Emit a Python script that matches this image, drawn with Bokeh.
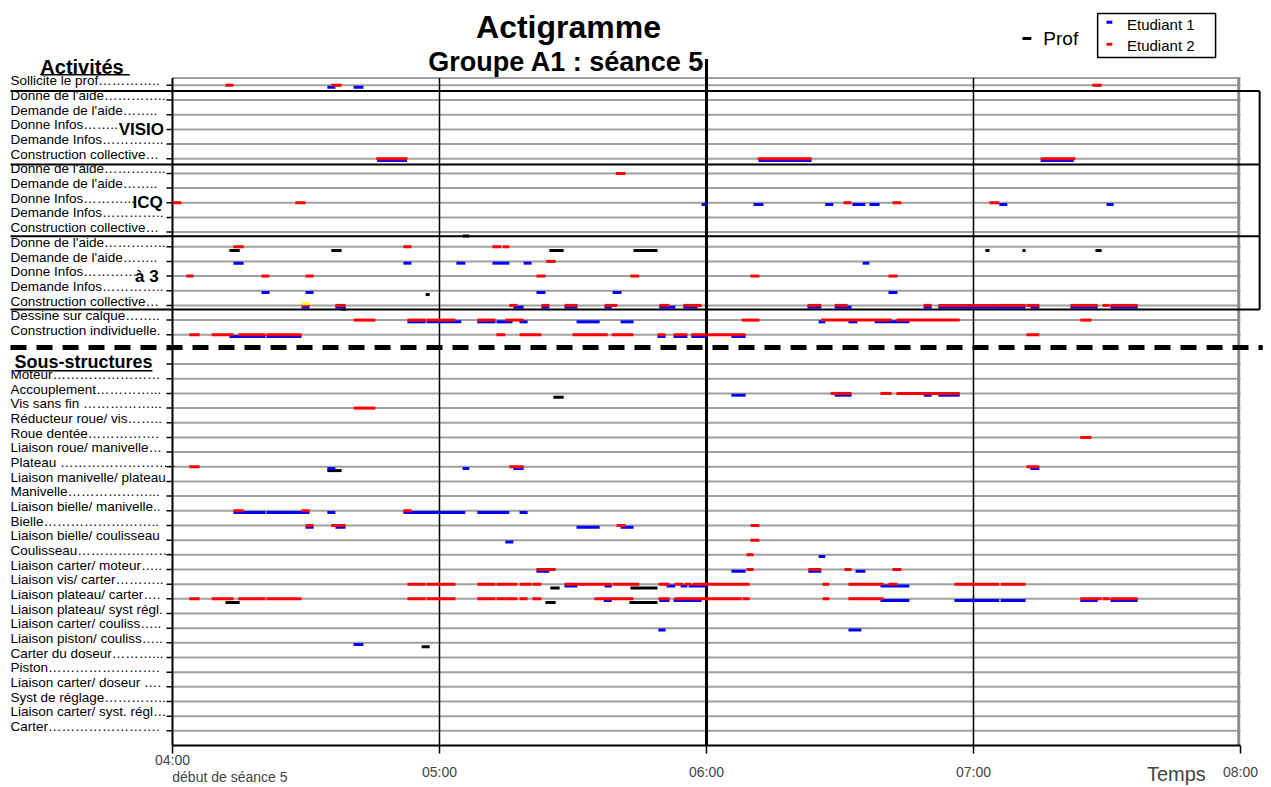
from bokeh.plotting import figure
from bokeh.models import ColumnDataSource, Range1d, FixedTicker, LinearAxis
from bokeh.core.properties import value
from bokeh.embed import file_html
from bokeh.resources import INLINE

FNAME = "Liberation Sans"
FONT = value(FNAME)

# ----------------------------------------------------------------- texts
titre = "Actigramme"
sous_titre = "Groupe A1 : séance 5"

activites = [
    "Sollicite le prof…………..",
    "Donne de l'aide…………..",
    "Demande de l'aide……..",
    "Donne Infos……..",
    "Demande Infos…………..",
    "Construction collective…",
    "Donne de l'aide…………..",
    "Demande de l'aide……..",
    "Donne Infos………...",
    "Demande Infos…………..",
    "Construction collective…",
    "Donne de l'aide…………..",
    "Demande de l'aide……..",
    "Donne Infos…………",
    "Demande Infos…………..",
    "Construction collective…",
    "Dessine sur calque……..",
    "Construction individuelle.",
]
sous_structures = [
    "Moteur……………………",
    "Accouplement…………...",
    "Vis sans fin ……………...",
    "Réducteur roue/ vis……..",
    "Roue dentée…………….",
    "Liaison roue/ manivelle…",
    "Plateau ……………………..",
    "Liaison manivelle/ plateau",
    "Manivelle………………...",
    "Liaison bielle/ manivelle..",
    "Bielle……………………..",
    "Liaison bielle/ coulisseau",
    "Coulisseau…………………",
    "Liaison carter/ moteur…..",
    "Liaison vis/ carter………..",
    "Liaison plateau/ carter….",
    "Liaison plateau/ syst régl.",
    "Liaison carter/ couliss…..",
    "Liaison piston/ couliss…..",
    "Carter du doseur………...",
    "Piston…………………….",
    "Liaison carter/ doseur ….",
    "Syst de réglage…………..",
    "Liaison carter/ syst. régl…",
    "Carter…………………….",
]
groupes = ["VISIO", "ICQ", "à 3"]
groupe_rows = [3, 8, 13]

heures = [0, 60, 120, 180, 240]          # minutes after 04:00
heure_labels = ["04:00", "05:00", "06:00", "07:00", "08:00"]
debut_label = "début de séance 5"
axe_label = "Temps"

# ----------------------------------------------------------------- data
# row index -> list of (start, end) in minutes after 04:00
# rows 0..17 = activités, rows 20..44 = sous-structures
etudiant1 = {
    0: [(34.8, 36.6), (40.7, 42.9)],
    5: [(46.0, 52.7), (131.7, 143.6), (195.1, 202.5)],
    8: [(118.9, 120.2), (130.6, 132.8), (146.7, 148.5), (152.8, 155.7), (156.6, 158.9),
        (185.8, 187.6), (209.9, 211.5)],
    12: [(13.7, 16.0), (51.9, 53.7), (63.8, 65.8), (71.9, 75.7), (78.9, 80.7), (155.1, 156.6)],
    14: [(20.0, 21.8), (29.9, 31.7), (81.8, 83.8), (98.9, 100.9), (160.9, 162.9)],
    15: [(29.0, 30.8), (36.6, 38.9), (76.6, 78.9), (82.9, 84.7), (88.1, 91.0), (97.1, 98.7),
         (109.4, 113.0), (114.8, 118.0), (142.7, 145.8), (148.8, 152.6), (168.8, 170.6),
         (172.1, 191.7), (192.8, 194.8), (201.8, 207.9), (210.8, 216.9)],
    16: [(52.8, 56.9), (57.1, 64.9), (68.5, 72.6), (72.8, 76.4), (78.0, 79.8), (90.8, 96.0),
         (100.7, 103.6), (145.2, 146.7), (151.9, 153.9), (157.8, 165.6)],
    17: [(12.8, 20.9), (21.1, 29.0), (109.0, 110.8), (112.6, 115.7), (116.6, 120.0),
         (125.6, 128.8)],
    21: [(125.6, 128.8), (148.8, 152.6), (168.8, 170.6), (172.1, 176.9)],
    26: [(34.8, 36.6), (65.2, 66.7), (76.6, 78.9), (192.8, 194.8)],
    29: [(13.7, 20.9), (21.1, 30.8), (34.8, 36.6), (51.9, 65.8), (68.5, 75.7), (78.0, 79.8)],
    30: [(29.9, 31.7), (36.6, 38.9), (90.8, 96.0), (100.7, 103.6)],
    31: [(74.8, 76.6)],
    32: [(145.2, 146.7)],
    33: [(81.8, 84.7), (125.6, 128.8), (142.9, 145.8), (153.5, 155.7)],
    34: [(88.1, 91.0), (97.1, 98.7), (111.0, 113.0), (114.2, 115.7), (116.0, 119.8),
         (159.1, 165.6)],
    35: [(96.9, 98.7), (109.4, 111.7), (112.6, 118.9), (159.1, 165.6), (175.7, 185.8),
         (186.1, 191.7), (204.0, 207.9), (210.8, 216.9)],
    37: [(109.2, 110.8), (151.9, 154.8)],
    38: [(40.7, 42.9)],
}
etudiant2 = {
    0: [(11.9, 13.7), (35.7, 38.0), (206.7, 208.8)],
    5: [(45.8, 52.8), (131.5, 143.6), (195.1, 202.9)],
    6: [(99.6, 101.8)],
    8: [(0.0, 2.0), (27.6, 29.9), (150.8, 152.6), (161.8, 163.8), (183.6, 185.8)],
    11: [(13.7, 16.0), (51.9, 53.7), (71.9, 73.9), (74.2, 75.7)],
    12: [(84.0, 86.1)],
    13: [(3.1, 4.7), (20.0, 21.8), (29.9, 31.7), (81.8, 83.8), (102.9, 104.9), (129.9, 131.9),
         (160.9, 162.9)],
    15: [(29.0, 30.8), (36.6, 38.9), (75.7, 77.5), (82.9, 84.7), (88.1, 91.0), (97.1, 100.0),
         (109.4, 111.7), (114.8, 118.9), (142.7, 145.8), (148.8, 151.7), (168.8, 170.6),
         (172.1, 185.8), (185.8, 191.7), (191.9, 194.8), (201.8, 207.9), (209.0, 210.6),
         (210.8, 216.9)],
    16: [(40.7, 45.6), (52.8, 56.9), (57.1, 63.6), (68.5, 72.6), (74.8, 78.9), (127.9, 131.9),
         (145.8, 161.6), (162.7, 176.9), (204.0, 206.5)],
    17: [(3.8, 6.1), (8.8, 13.7), (14.8, 20.9), (21.1, 29.0), (72.8, 74.8), (78.0, 82.9),
         (89.9, 97.8), (98.7, 103.6), (109.0, 110.8), (112.6, 115.7), (116.6, 120.0),
         (120.2, 128.8), (191.9, 194.8)],
    21: [(147.9, 152.6), (159.1, 161.6), (162.7, 176.9)],
    22: [(40.7, 45.6)],
    24: [(204.0, 206.5)],
    26: [(3.8, 6.1), (75.7, 78.9), (191.9, 194.8)],
    29: [(13.7, 16.0), (29.0, 30.8), (51.9, 53.7)],
    30: [(29.9, 31.7), (35.7, 38.9), (99.8, 101.8), (129.9, 131.9)],
    31: [(129.9, 131.9)],
    32: [(129.0, 130.6)],
    33: [(81.8, 86.1), (129.0, 130.6), (142.9, 145.8), (151.0, 152.6), (161.8, 163.8)],
    34: [(52.8, 56.9), (57.1, 63.6), (68.5, 72.6), (72.8, 74.8), (74.8, 77.5), (78.0, 80.7),
         (80.9, 82.9), (88.1, 98.7), (98.9, 104.9), (109.2, 111.7), (112.8, 114.8),
         (115.1, 116.6), (116.9, 129.7), (146.1, 147.6), (151.9, 159.8), (160.9, 162.9),
         (175.7, 185.8), (186.1, 191.7)],
    35: [(3.8, 6.1), (8.8, 13.7), (14.8, 20.9), (21.1, 29.0), (52.8, 56.9), (57.1, 63.6),
         (68.5, 72.6), (72.8, 74.8), (74.8, 77.5), (78.0, 79.8), (80.9, 82.9), (94.8, 103.6),
         (109.2, 111.7), (112.8, 127.9), (128.1, 129.7), (146.1, 147.6), (151.9, 159.8),
         (204.0, 208.8), (209.0, 210.6), (210.8, 216.9)],
}
prof = {
    10: [(65.2, 66.7)],
    11: [(12.8, 15.1), (35.7, 38.0), (84.7, 87.9), (103.6, 109.0), (182.7, 183.6),
         (191.0, 191.7), (207.4, 208.8)],
    14: [(56.9, 57.8)],
    15: [(38.0, 38.9)],
    21: [(85.6, 87.9)],
    26: [(34.8, 38.0)],
    34: [(84.9, 87.0), (102.9, 109.0)],
    35: [(11.9, 15.1), (83.8, 86.1), (102.7, 109.0)],
    38: [(56.0, 57.8)],
}
autre = {15: [(29.0, 30.8)]}   # yellow mark

# ----------------------------------------------------------------- figure
p = figure(width=1263, height=787,
           x_range=Range1d(-36.85, 245.17), y_range=Range1d(45.0, -5.24),
           output_backend="svg", toolbar_location=None, y_axis_location=None,
           min_border_left=8, min_border_right=0, min_border_top=8, min_border_bottom=41)
p.grid.visible = False
p.outline_line_color = None

GRAY = "#a0a0a0"
rows_all = list(range(0, 18)) + list(range(19, 45))

# gray row lines + top border
gl = ColumnDataSource(dict(y=rows_all + [-0.5]))
p.segment(x0=0, x1=240, y0="y", y1="y", source=gl, line_color=GRAY, line_width=2)
# right border
p.segment(x0=[239.6], x1=[239.6], y0=[-0.5], y1=[45], line_color="#8c8c8c", line_width=3)

# y "axis": line and ticks at each row
p.segment(x0=[0], x1=[0], y0=[-0.5], y1=[45], line_color="black", line_width=2)
tk = ColumnDataSource(dict(y=list(range(0, 45))))
p.segment(x0=-1.35, x1=0, y0="y", y1="y", source=tk, line_color="black", line_width=1.5)

# hour lines
p.segment(x0=[60, 180], x1=[60, 180], y0=[-0.5, -0.5], y1=[45, 45], line_color="black", line_width=1.5)
p.segment(x0=[120], x1=[120], y0=[-1.8], y1=[45], line_color="black", line_width=3)

# group boxes
box_y = [0.39, 5.4, 10.28, 15.28]
p.segment(x0=-36.4, x1=244.3, y0=box_y, y1=box_y, line_color="black", line_width=2)
p.segment(x0=[244.3], x1=[244.3], y0=[0.39], y1=[15.28], line_color="black", line_width=2)

# dashed separator
p.segment(x0=[-36.4], x1=[245.0], y0=[17.87], y1=[17.87], line_color="black", line_width=5,
          line_dash="16 10")


def seg_source(series, off):
    x0, x1, y = [], [], []
    for row, segs in series.items():
        for a, b in segs:
            x0.append(a)
            x1.append(b)
            y.append(row + off)
    return ColumnDataSource(dict(x0=x0, x1=x1, y=y))


for series, off, col in [(prof, 0.26, "black"), (etudiant1, 0.12, "#0000ff"),
                         (etudiant2, 0.0, "#ff0000"), (autre, -0.12, "#ffff00")]:
    p.segment(x0="x0", x1="x1", y0="y", y1="y", source=seg_source(series, off),
              line_color=col, line_width=3, line_cap="butt")

# row labels
lab_rows = list(range(18)) + list(range(20, 45))
lab_src = ColumnDataSource(dict(x=[-36.4] * len(lab_rows), y=[r - 0.3 for r in lab_rows],
                                t=activites + sous_structures))
p.text(x="x", y="y", text="t", source=lab_src, text_font=FONT, text_font_size="13.5px",
       text_baseline="middle", text_align="left", text_color="black")

# group names
grp_src = ColumnDataSource(dict(x=[-12.1, -9.0, -8.4], y=groupe_rows, t=groupes))
p.text(x="x", y="y", text="t", source=grp_src, text_font=FONT, text_font_size="17px",
       text_font_style="bold", text_baseline="middle", text_align="left")

# section headers (underlined)
p.text(x=[-29.7], y=[-1.23], text=["Activités"], text_font=FONT, text_font_size="20px",
       text_font_style="bold", text_baseline="middle", text_align="left")
p.segment(x0=[-29.7], x1=[-9.6], y0=[-0.72], y1=[-0.72], line_color="black", line_width=1.5)
p.text(x=[-35.5], y=[18.86], text=["Sous-structures"], text_font=FONT, text_font_size="18px",
       text_font_style="bold", text_baseline="middle", text_align="left")
p.segment(x0=[-35.5], x1=[-4.5], y0=[19.45], y1=[19.45], line_color="black", line_width=1.5)

# titles
p.text(x=[89.0], y=[-3.95], text=[titre], text_font=FONT, text_font_size="32px",
       text_font_style="bold", text_baseline="middle", text_align="center")
p.text(x=[88.5], y=[-1.57], text=[sous_titre], text_font=FONT, text_font_size="27px",
       text_font_style="bold", text_baseline="middle", text_align="center")

# legend
p.segment(x0=[191.0], x1=[193.0], y0=[-3.2], y1=[-3.2], line_color="black", line_width=3)
p.text(x=[195.7], y=[-3.2], text=["Prof"], text_font=FONT, text_font_size="19px",
       text_baseline="middle", text_align="left")
p.quad(left=[207.9], right=[234.4], top=[-4.9], bottom=[-1.9], fill_color="white",
       line_color="black", line_width=1.5)
p.segment(x0=[209.9, 209.9], x1=[211.2, 211.2], y0=[-4.3, -2.8], y1=[-4.3, -2.8],
          line_color=["#0000ff", "#ff0000"], line_width=3)
p.text(x=[214.5, 214.5], y=[-4.15, -2.7], text=["Etudiant 1", "Etudiant 2"], text_font=FONT,
       text_font_size="15px", text_baseline="middle", text_align="left")


def label_axis(ticks, labels, size, standoff):
    return LinearAxis(ticker=FixedTicker(ticks=ticks),
                      major_label_overrides={t: l for t, l in zip(ticks, labels)},
                      axis_line_color=None, major_tick_line_color=None,
                      minor_tick_line_color=None, major_tick_out=0, major_tick_in=0,
                      major_label_standoff=standoff, axis_label_standoff=0,
                      major_label_text_font=FNAME, major_label_text_font_size=size)


# x axis: line, hour ticks and "04:00"
ax = p.xaxis[0]
ax.ticker = FixedTicker(ticks=heures)
ax.major_label_overrides = {h: (l if h == 0 else "") for h, l in zip(heures, heure_labels)}
ax.bounds = (0, 240)
ax.axis_line_width = 2
ax.axis_line_color = "black"
ax.major_tick_out = 8
ax.major_tick_in = 0
ax.major_tick_line_width = 1.5
ax.minor_tick_line_color = None
ax.major_label_standoff = -2
ax.axis_label_standoff = 0
ax.major_label_text_font = FNAME
ax.major_label_text_font_size = "14px"

# staggered second row of labels, then the start note, then the axis title
p.add_layout(label_axis(heures[1:], heure_labels[1:], "14px", -7), "below")
p.add_layout(label_axis([12.9], [debut_label], "14px", -14), "below")
p.add_layout(label_axis([225.6], [axe_label], "20px", -25), "below")

open("out.html", "w").write(file_html(p, INLINE))
